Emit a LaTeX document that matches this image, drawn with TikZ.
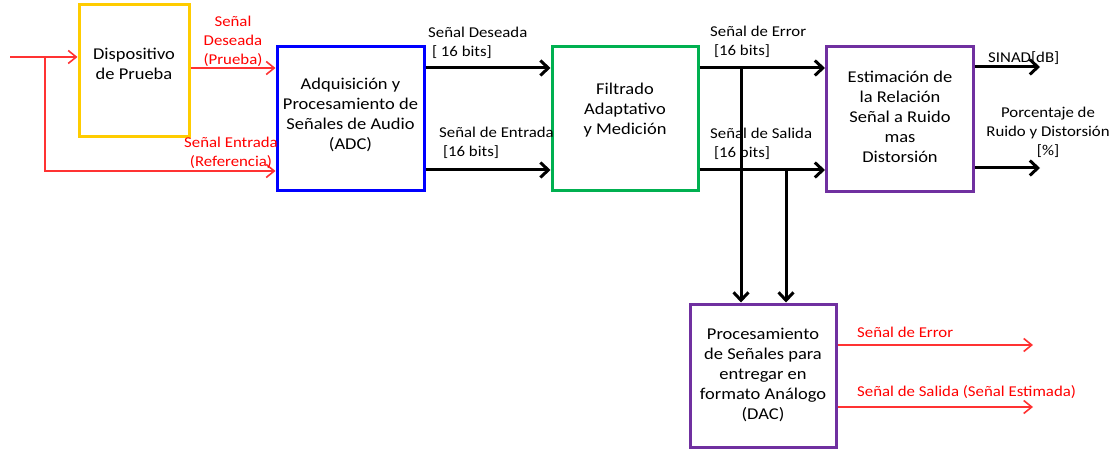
\documentclass[tikz,border=0pt]{standalone}
\usepackage{fontspec}
\setmainfont{Carlito}[FakeStretch=1.12]
\usetikzlibrary{arrows.meta}
\definecolor{dyellow}{RGB}{255,204,0}
\definecolor{dblue}{RGB}{0,0,255}
\definecolor{dgreen}{RGB}{0,176,80}
\definecolor{dpurple}{RGB}{112,48,160}
\definecolor{dred}{RGB}{255,0,0}
\definecolor{lred}{RGB}{255,50,50}
\begin{document}
\begin{tikzpicture}[x=1pt,y=-1pt,
  box/.style={draw, line width=3pt, inner sep=0pt},
  txt/.style={align=center, inner sep=0pt, font=\fontsize{16.5}{20}\selectfont},
  lbl/.style={align=left, anchor=west, inner sep=0pt, font=\fontsize{15}{19}\selectfont},
  rlbl/.style={align=center, inner sep=0pt, text=dred, font=\fontsize{15}{19}\selectfont},
  blkarr/.style={line width=3pt, -{Straight Barb[length=8pt,width=15pt]}},
  redarr/.style={draw=lred, line width=1.6pt, -{Straight Barb[length=8pt,width=13pt]}}]
\useasboundingbox (0,0) rectangle (1119,449);

% processing blocks
\node[box, draw=dyellow, minimum width=110, minimum height=132] (disp) at (134,71) {};
\node[box, draw=dblue, minimum width=147, minimum height=144] (adc) at (350.5,119) {};
\node[box, draw=dgreen, minimum width=146, minimum height=144] (filt) at (625,119) {};
\node[box, draw=dpurple, minimum width=147, minimum height=145] (est) at (900,119) {};
\node[box, draw=dpurple, minimum width=146, minimum height=143] (dac) at (763,375.5) {};

% block captions
\node[txt] (disptxt) at (134,64) {Dispositivo\\de Prueba};
\node[txt] (adctxt) at (350.5,115) {Adquisición y\\Procesamiento de\\Señales de Audio\\(ADC)};
\node[txt] (filttxt) at (625,110) {Filtrado\\Adaptativo\\y Medición};
\node[txt] (esttxt) at (900,117) {Estimación de\\la Relación\\Señal a Ruido\\mas\\Distorsión};
\node[txt] (dactxt) at (763,375) {Procesamiento\\de Señales para\\entregar en\\formato Análogo\\(DAC)};

% analog input and its split
\coordinate (src) at (10,57);
\coordinate (split) at (45,57);
\draw[redarr] (src) -- (disp.west |- src);
\draw[redarr] (split) |- (adc.west |- 0,171);
\draw[redarr] (disp.east |- 0,68) -- (adc.west |- 0,68);
\node[rlbl] (lbldes) at (233,41) {Señal\\Deseada\\(Prueba)};
\node[rlbl] (lblref) at (231,153) {Señal Entrada\\(Referencia)};

% digital signals
\draw[blkarr] (adc.east |- 0,68) -- (filt.west |- 0,68);
\draw[blkarr] (adc.east |- 0,170) -- (filt.west |- 0,170);
\node[lbl] (lblds) at (428,42.5) {Señal Deseada\\\ [ 16 bits]};
\node[lbl] (lblen) at (439,143) {Señal de Entrada\\\ [16 bits]};

\draw[blkarr] (filt.east |- 0,68) -- (est.west |- 0,68);
\draw[blkarr] (filt.east |- 0,170) -- (est.west |- 0,170);
\node[lbl] (lbler) at (710,42) {Señal de Error\\\ [16 bits]};
\node[lbl] (lblsa) at (710,144) {Señal de Salida\\\ [16 bits]};

% taps towards the DAC
\coordinate (tapE) at (741,68);
\coordinate (tapS) at (786,170);
\draw[blkarr] (tapE) -- (tapE |- dac.north);
\draw[blkarr] (tapS) -- (tapS |- dac.north);

% measurement outputs
\coordinate (outA) at (1040,67);
\coordinate (outB) at (1040,168);
\draw[blkarr] (est.east |- outA) -- (outA);
\draw[blkarr] (est.east |- outB) -- (outB);
\node[lbl] (lblsinad) at (988,58) {SINAD[dB]};
\node[rlbl, text=black] (lblpct) at (1048,132) {Porcentaje de\\Ruido y Distorsión\\{[\%]}};

% analog outputs
\coordinate (outC) at (1033,345);
\coordinate (outD) at (1033,407);
\draw[redarr] (dac.east |- outC) -- (outC);
\draw[redarr] (dac.east |- outD) -- (outD);
\node[lbl, text=dred] (lblerr) at (857,332) {Señal de Error};
\node[lbl, text=dred] (lblest) at (857,392) {Señal de Salida (Señal Estimada)};
\end{tikzpicture}
\end{document}
